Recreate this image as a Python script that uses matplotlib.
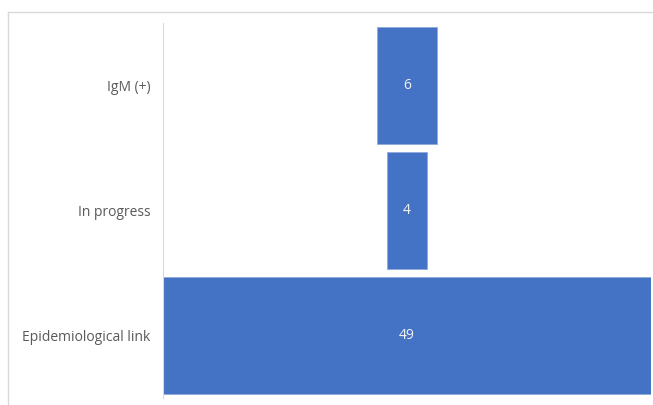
import matplotlib
matplotlib.use("Agg")
import matplotlib.pyplot as plt
from matplotlib.lines import Line2D

categories = ["Epidemiological link", "In progress", "IgM (+)"]
values = [49, 4, 6]

W, H = 653, 405
fig = plt.figure(figsize=(W / 100, H / 100), dpi=100)
plt.rcParams["font.family"] = ["Open Sans", "DejaVu Sans"]

# outer chart frame (only top and left edges visible in the crop)
fig.add_artist(Line2D([8 / W, 1], [1 - 12 / H, 1 - 12 / H], color="#D9D9D9", lw=1))
fig.add_artist(Line2D([8 / W, 8 / W], [0, 1 - 12 / H], color="#D9D9D9", lw=1))

ax = fig.add_axes([163 / W, 7 / H, 488 / W, 375 / H])
vmax = max(values)
lefts = [(vmax - v) / 2 for v in values]
ypos = range(len(categories))
ax.barh(ypos, values, left=lefts, height=0.94, color="#4472C4",
        edgecolor="#8FAADC", linewidth=0.6)
for y, v, l in zip(ypos, values, lefts):
    ax.text(l + v / 2, y, str(v), ha="center", va="center", color="#F2F2F2", fontsize=10)

ax.set_xlim(0, vmax)
ax.set_ylim(-0.5, len(categories) - 0.5)
ax.set_yticks(list(ypos))
ax.set_yticklabels(categories, color="#595959", fontsize=10)
ax.tick_params(axis="y", length=0, pad=9)
ax.set_xticks([])
for s in ("top", "right", "bottom"):
    ax.spines[s].set_visible(False)
ax.spines["left"].set_color("#D9D9D9")

fig.savefig("out.png", dpi=100)
